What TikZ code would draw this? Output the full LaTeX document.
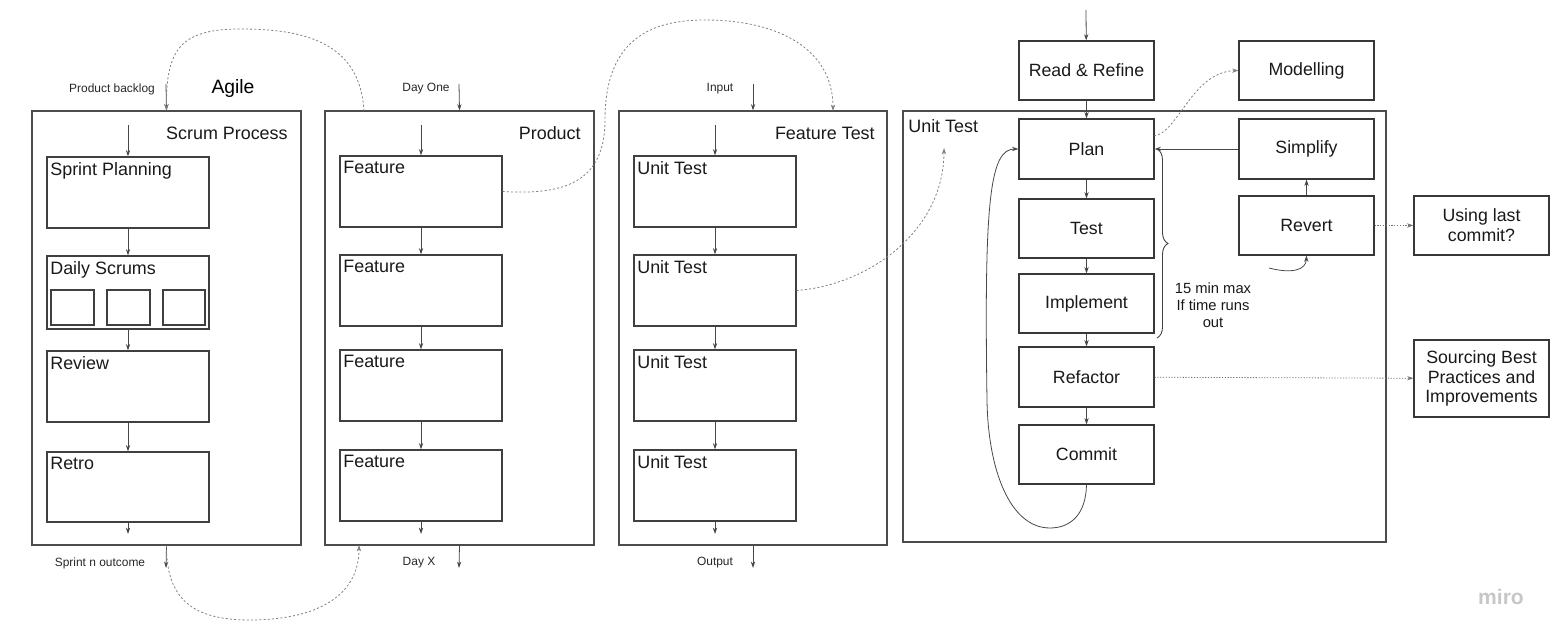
\documentclass[tikz,border=0pt]{standalone}
\usepackage{fontspec}
\setmainfont{Liberation Sans}
\usepackage{xcolor}
\usetikzlibrary{arrows.meta,fit,decorations.pathreplacing}

\begin{document}
\begin{tikzpicture}[x=0.02cm,y=-0.02cm,
  frame/.style={draw=black!70,line width=0.6pt,inner sep=0pt},
  card/.style={draw=black!75,line width=0.6pt,inner sep=0pt},
  cardtext/.style={anchor=north west,inner xsep=2pt,inner ysep=3pt,font=\fontsize{10.2}{12}\selectfont,text=black!90},
  tdd/.style={draw=black!78,line width=0.6pt,inner sep=0pt},
  tddtext/.style={anchor=center,inner sep=0pt,align=center,font=\fontsize{10.1}{11.3}\selectfont,text=black!90},
  heading/.style={inner sep=0pt,font=\fontsize{10.2}{12}\selectfont,text=black!90},
  tag/.style={inner sep=0pt,font=\fontsize{6.8}{8}\selectfont,text=black!85},
  arr/.style={-{Stealth[length=3.6pt,width=2.4pt]},draw=black!72,line width=0.45pt},
  dots/.style={arr,draw=black!50,dash pattern=on 1.2pt off 1.2pt},
  fine/.style={arr,draw=black!55,dash pattern=on 0.7pt off 0.9pt},
  ]
\useasboundingbox (0,0) rectangle (1560,641);

% outer frames
\node[frame,fit={(32,111)(301,545)}] (scrum) {};
\node[frame,fit={(325,111)(594,545)}] (product) {};
\node[frame,fit={(619,111)(887,545)}] (ftest) {};
\node[frame,fit={(903,111)(1386,542)}] (utest) {};

% titles
\node[inner sep=0pt,font=\fontsize{11}{13}\selectfont] (agile) at (233,89) {Agile};
\node[heading,anchor=east] (scrumtitle) at (288,133) {Scrum Process};
\node[heading,anchor=east] (producttitle) at (581,133) {Product};
\node[heading,anchor=east] (ftesttitle) at (875,133) {Feature Test};
\node[heading,anchor=west] (utesttitle) at (908,126) {Unit Test};

% in / out tags
\node[tag] (backlog) at (112,89) {Product backlog};
\node[tag] (outcome) at (100,563) {Sprint n outcome};
\node[tag] (dayone) at (426,89) {Day One};
\node[tag] (dayx) at (419,563) {Day X};
\node[tag] (input) at (720,89) {Input};
\node[tag] (output) at (715,563) {Output};

% scrum process
\node[card,fit={(47,157)(209,228)},label={[cardtext]north west:Sprint Planning}] (sprint) {};
\node[card,fit={(47,256)(209,329)},label={[cardtext]north west:Daily Scrums}] (daily) {};
\node[card,fit={(51,290)(94,325)}] (dayA) {};
\node[card,fit={(107,290)(150,325)}] (dayB) {};
\node[card,fit={(163,290)(205,325)}] (dayC) {};
\node[card,fit={(47,351)(209,422)},label={[cardtext]north west:Review}] (review) {};
\node[card,fit={(47,452)(209,522)},label={[cardtext]north west:Retro}] (retro) {};

% product
\node[card,fit={(340,156)(502,227)},label={[cardtext]north west:Feature}] (featA) {};
\node[card,fit={(340,255)(502,326)},label={[cardtext]north west:Feature}] (featB) {};
\node[card,fit={(340,350)(502,421)},label={[cardtext]north west:Feature}] (featC) {};
\node[card,fit={(340,450)(502,521)},label={[cardtext]north west:Feature}] (featD) {};

% feature test
\node[card,fit={(634,156)(796,227)},label={[cardtext]north west:Unit Test}] (unitA) {};
\node[card,fit={(634,255)(796,326)},label={[cardtext]north west:Unit Test}] (unitB) {};
\node[card,fit={(634,350)(796,421)},label={[cardtext]north west:Unit Test}] (unitC) {};
\node[card,fit={(634,450)(796,521)},label={[cardtext]north west:Unit Test}] (unitD) {};

% tdd cycle
\node[tdd,fit={(1019,41)(1154,100)},label={[tddtext]center:Read \& Refine}] (refine) {};
\node[tdd,fit={(1239,41)(1374,100)},label={[tddtext]center:Modelling}] (model) {};
\node[tdd,fit={(1019,119)(1154,179)},label={[tddtext]center:Plan}] (plan) {};
\node[tdd,fit={(1019,199)(1154,258)},label={[tddtext]center:Test}] (test) {};
\node[tdd,fit={(1019,274)(1154,333)},label={[tddtext]center:Implement}] (impl) {};
\node[tdd,fit={(1019,347)(1154,407)},label={[tddtext]center:Refactor}] (refactor) {};
\node[tdd,fit={(1019,425)(1154,484)},label={[tddtext]center:Commit}] (commit) {};
\node[tdd,fit={(1239,119)(1374,179)},label={[tddtext]center:Simplify}] (simplify) {};
\node[tdd,fit={(1239,196)(1374,255)},label={[tddtext]center:Revert}] (revert) {};
\node[tdd,fit={(1414,196)(1549,255)},label={[tddtext]center:Using last\\commit?}] (lastcommit) {};
\node[tdd,fit={(1414,340)(1549,417)},label={[tddtext]center:Sourcing Best\\Practices and\\Improvements}] (sourcing) {};
\node[inner sep=0pt,align=center,font=\fontsize{8.4}{9.7}\selectfont,text=black!90] (timebox) at (1213,305) {15 min max\\If time runs\\out};

\node[inner sep=0pt,font=\fontsize{12}{14}\bfseries,text=black!22] (miro) at (1501,597) {miro};

% free ends
\coordinate (scrumin) at (128,125);
\coordinate (scrumout) at (128,534);
\coordinate (productin) at (421,125);
\coordinate (productout) at (421,534);
\coordinate (ftestin) at (715,125);
\coordinate (ftestout) at (715,534);
\coordinate (backlogin) at (166,84);
\coordinate (outcomeout) at (166,568);
\coordinate (dayonein) at (459,84);
\coordinate (dayxout) at (459,568);
\coordinate (inputin) at (753,84);
\coordinate (outputout) at (753,568);
\coordinate (producttop) at (364,111);
\coordinate (productbottom) at (359,545);
\coordinate (ftesttop) at (833,111);
\coordinate (utestmark) at (944,148);
\coordinate (refinein) at (1086,10);
\coordinate (planout) at (1154,136);
\coordinate (revertloop) at (1269,268);

% scrum arrows
\draw[arr] (scrumin) -- (sprint);
\draw[arr] (sprint) -- (daily);
\draw[arr] (daily) -- (review);
\draw[arr] (review) -- (retro);
\draw[arr] (retro) -- (scrumout);
\draw[arr] (backlogin) -- (scrum.north);
\draw[arr] (scrum.south) -- (outcomeout);

% product arrows
\draw[arr] (productin) -- (featA);
\draw[arr] (featA) -- (featB);
\draw[arr] (featB) -- (featC);
\draw[arr] (featC) -- (featD);
\draw[arr] (featD) -- (productout);
\draw[arr] (dayonein) -- (product.north);
\draw[arr] (product.south) -- (dayxout);

% feature test arrows
\draw[arr] (ftestin) -- (unitA);
\draw[arr] (unitA) -- (unitB);
\draw[arr] (unitB) -- (unitC);
\draw[arr] (unitC) -- (unitD);
\draw[arr] (unitD) -- (ftestout);
\draw[arr] (inputin) -- (ftest.north);
\draw[arr] (ftest.south) -- (outputout);

% links between frames
\draw[dots] (producttop) .. controls (360,40) and (300,29) .. (240,29) .. controls (180,29) and (166,50) .. (scrum.north);
\draw[dots] (scrum.south) .. controls (166,605) and (200,620) .. (250,620) .. controls (310,620) and (359,600) .. (productbottom);
\draw[dots] (featA.east) .. controls (560,195) and (605,185) .. (605,120) .. controls (605,40) and (650,20) .. (705,20) .. controls (780,20) and (833,50) .. (ftesttop);
\draw[dots] (unitB.east) .. controls (870,285) and (944,230) .. (utestmark);

% tdd arrows
\draw[arr] (refinein) -- (refine);
\draw[arr] (refine) -- (plan);
\draw[arr] (plan) -- (test);
\draw[arr] (test) -- (impl);
\draw[arr] (impl) -- (refactor);
\draw[arr] (refactor) -- (commit);
\draw[arr] (simplify) -- (plan);
\draw[arr] (revert) -- (simplify);
\draw[fine] (revert) -- (lastcommit);
\draw[fine] (refactor) -- (sourcing);
\draw[dots] (planout) .. controls (1178,133) and (1192,72) .. (model.west);
\draw[arr] (commit.south) .. controls (1086,515) and (1070,528) .. (1050,528) .. controls (1010,528) and (988,470) .. (987,400) .. controls (984,200) and (990,149) .. (plan.west);
\draw[arr] (revertloop) .. controls (1292,274) and (1306,270) .. (revert.south);
\draw[decorate,decoration={brace,amplitude=0.22cm},draw=black!75,line width=0.5pt] (1157,149) -- (1157,338);
\end{tikzpicture}
\end{document}
